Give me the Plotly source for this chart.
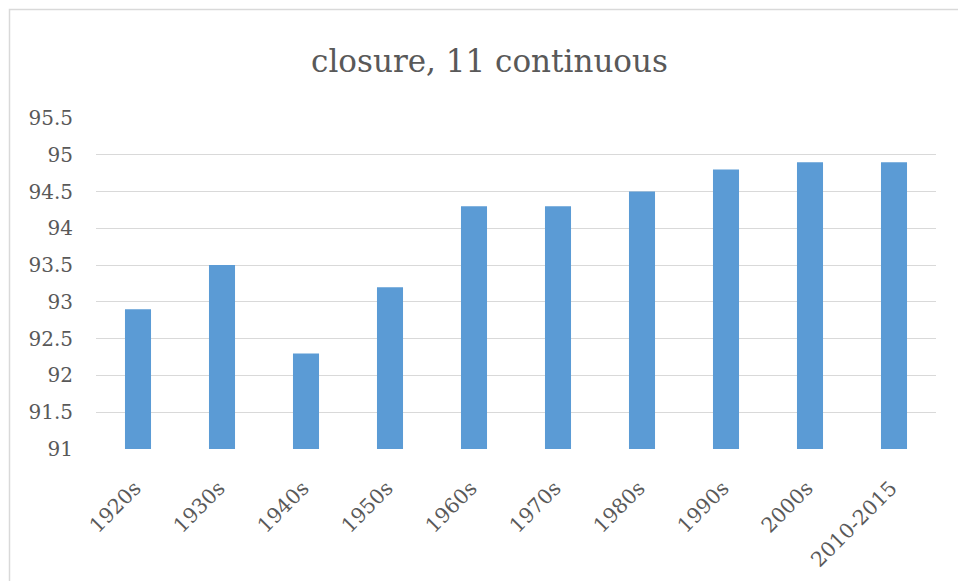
import plotly.graph_objects as go

# Decade categories and the closure values for each
decades = ["1920s", "1930s", "1940s", "1950s", "1960s",
           "1970s", "1980s", "1990s", "2000s", "2010-2015"]
closure = [92.9, 93.5, 92.3, 93.2, 94.3, 94.3, 94.5, 94.8, 94.9, 94.9]

y_ticks = [91, 91.5, 92, 92.5, 93, 93.5, 94, 94.5, 95, 95.5]
y_tick_text = ["91", "91.5", "92", "92.5", "93", "93.5", "94", "94.5", "95", "95.5"]

bar_color = "#5B9BD5"
text_color = "#595959"
grid_color = "#D9D9D9"
font_family = "DejaVu Serif"

fig = go.Figure(
    go.Bar(
        x=decades,
        y=closure,
        marker=dict(color=bar_color, line=dict(width=0)),
        cliponaxis=True,
    )
)

fig.update_layout(
    width=958,
    height=581,
    margin=dict(l=96, r=22, t=118, b=132),
    paper_bgcolor="white",
    plot_bgcolor="white",
    bargap=0.69,
    showlegend=False,
    title=dict(
        text="closure, 11 continuous",
        x=489.5 / 958,
        xanchor="center",
        xref="container",
        y=1 - 61 / 581,
        yanchor="middle",
        yref="container",
        font=dict(family=font_family, size=31, color=text_color),
    ),
    font=dict(family=font_family, size=20, color=text_color),
)

# Invisible outside ticks push the rotated labels down from the axis
fig.update_xaxes(
    type="category",
    tickangle=-45,
    showgrid=False,
    showline=False,
    ticks="outside",
    ticklen=18,
    tickcolor="rgba(0,0,0,0)",
    ticklabelshift=-3,
    automargin=False,
    tickfont=dict(family=font_family, size=20.5, color=text_color),
)

fig.update_yaxes(
    range=[91, 95.5],
    tickmode="array",
    tickvals=y_ticks,
    ticktext=y_tick_text,
    showgrid=True,
    gridcolor=grid_color,
    gridwidth=1.3,
    zeroline=False,
    showline=False,
    ticks="",
    ticklabelstandoff=22,
    automargin=False,
    tickfont=dict(family=font_family, size=20, color=text_color),
)

# Light chart-area frame surrounding the whole chart
fig.add_shape(
    type="rect",
    xref="paper", yref="paper",
    x0=(9.5 - 96) / 840, x1=1.2,
    y0=-0.6, y1=(449.3 - 9.0) / 331.6,
    line=dict(color="#D9D9D9", width=1.5),
    fillcolor="rgba(0,0,0,0)",
    layer="below",
)

fig.write_html("out.html")
